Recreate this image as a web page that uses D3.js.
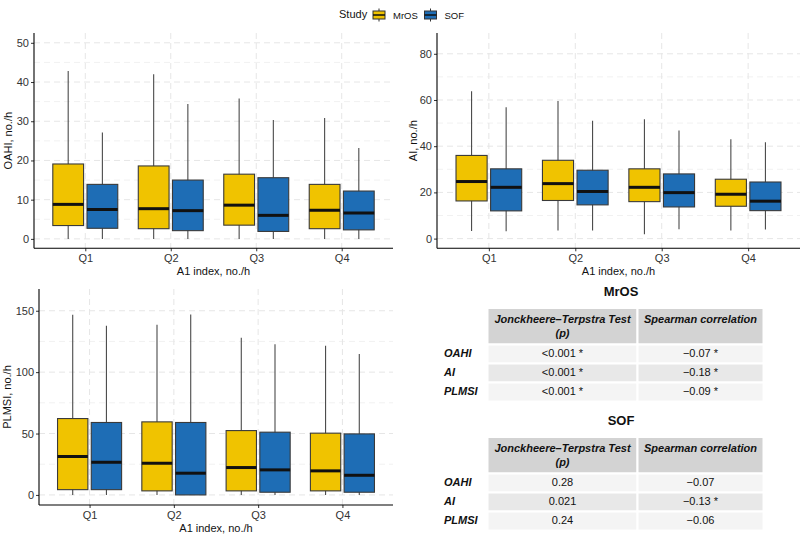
<!DOCTYPE html>
<html>
<head>
<meta charset="utf-8">
<script src="https://cdn.jsdelivr.net/npm/d3@7"></script>
<style>
  html, body { margin: 0; padding: 0; background: #fff; }
  svg { display: block; font-family: "Liberation Sans", Arial, Helvetica, sans-serif; }
</style>
</head>
<body>
<svg id="chart" width="800" height="534"></svg>
<script>
// quartile groups of the A1 index and the two cohorts
const quartiles = ['Q1', 'Q2', 'Q3', 'Q4'];
const studies = ['MrOS', 'SOF'];

// box stats per quartile: [whisker low, q1, median, q3, whisker high]
const oahiMrOS = [[0, 3.4, 8.8, 19.1, 42.8], [0, 2.6, 7.7, 18.6, 42.0], [0, 3.5, 8.6, 16.5, 35.8], [0, 2.6, 7.3, 13.9, 30.8]];
const oahiSOF = [[0, 2.7, 7.5, 13.9, 27.1], [0, 2.1, 7.2, 15.0, 34.4], [0, 1.9, 6.0, 15.6, 30.3], [0, 2.3, 6.6, 12.2, 23.2]];
const aiMrOS = [[3.3, 16.3, 24.7, 36.0, 63.8], [3.5, 16.5, 23.8, 33.9, 59.6], [1.9, 16.0, 22.2, 30.2, 51.7], [3.5, 14.0, 19.2, 25.7, 43.0]];
const aiSOF = [[3.2, 12.0, 22.2, 30.2, 56.9], [3.5, 14.6, 20.4, 29.6, 51.0], [4.0, 13.7, 19.9, 28.0, 46.8], [3.9, 12.1, 16.2, 24.5, 41.7]];
const plmsiMrOS = [[0, 4.3, 31.3, 62.2, 146.7], [0, 3.3, 25.8, 59.5, 138.6], [0, 3.3, 22.3, 52.4, 128.0], [0, 3.3, 19.6, 50.3, 121.5]];
const plmsiSOF = [[0, 4.3, 26.6, 59.0, 137.8], [0, 0, 17.7, 59.0, 147.0], [0, 2.2, 20.4, 51.1, 122.8], [0, 2.2, 16.0, 49.7, 114.7]];

// y ticks (major + minor) per panel
const oahiTicks = [0, 10, 20, 30, 40, 50];
const oahiMinor = [5, 15, 25, 35, 45];
const aiTicks = [0, 20, 40, 60, 80];
const aiMinor = [10, 30, 50, 70];
const plmsiTicks = [0, 50, 100, 150];
const plmsiMinor = [25, 75, 125];

// tables
const tableRows = ['OAHI', 'AI', 'PLMSI'];
const tableHead = [['Jonckheere\u2013Terpstra Test', '(p)'], ['Spearman correlation']];
const mrosJT = ['<0.001 *', '<0.001 *', '<0.001 *'];
const mrosSp = ['\u22120.07 *', '\u22120.18 *', '\u22120.09 *'];
const sofJT = ['0.28', '0.021', '0.24'];
const sofSp = ['\u22120.07', '\u22120.13 *', '\u22120.06'];

const colors = { MrOS: '#F0C300', SOF: '#1E6DB5' };
const svg = d3.select('#chart');

function drawPanel(cfg) {
  const x = d3.scalePoint().domain(quartiles).range([cfg.left, cfg.right]).padding(0.6);
  const step = x.step();
  const dodge = d3.scaleBand().domain(studies)
    .range([-0.4 * step, 0.4 * step]).paddingInner(0.1).paddingOuter(0.05);
  const y = d3.scaleLinear().domain(cfg.domain).range([cfg.bottom, cfg.top]);

  const g = svg.append('g');

  // dashed grid
  g.append('g').selectAll('line').data(cfg.minor).join('line')
    .attr('x1', cfg.left).attr('x2', cfg.right)
    .attr('y1', d => y(d)).attr('y2', d => y(d))
    .attr('stroke', '#f1f1f1').attr('stroke-dasharray', '6,4');
  g.append('g').selectAll('line').data(cfg.ticks).join('line')
    .attr('x1', cfg.left).attr('x2', cfg.right)
    .attr('y1', d => y(d)).attr('y2', d => y(d))
    .attr('stroke', '#e6e6e6').attr('stroke-dasharray', '6,4');
  g.append('g').selectAll('line').data(quartiles).join('line')
    .attr('x1', d => x(d)).attr('x2', d => x(d))
    .attr('y1', cfg.top).attr('y2', cfg.bottom)
    .attr('stroke', '#e6e6e6').attr('stroke-dasharray', '6,4');

  // boxes
  studies.forEach(s => {
    const stats = cfg.data[s];
    const bw = dodge.bandwidth();
    const grp = g.append('g').selectAll('g').data(quartiles).join('g')
      .attr('transform', q => `translate(${x(q) + dodge(s)},0)`);
    grp.append('line')
      .attr('x1', bw / 2).attr('x2', bw / 2)
      .attr('y1', (q, i) => y(stats[i][0])).attr('y2', (q, i) => y(stats[i][4]))
      .attr('stroke', '#4a4a4a').attr('stroke-width', 1.1);
    grp.append('rect')
      .attr('x', 0).attr('width', bw)
      .attr('y', (q, i) => y(stats[i][3]))
      .attr('height', (q, i) => y(stats[i][1]) - y(stats[i][3]))
      .attr('fill', colors[s]).attr('stroke', '#3a3a3a').attr('stroke-width', 1.1);
    grp.append('line')
      .attr('x1', 0).attr('x2', bw)
      .attr('y1', (q, i) => y(stats[i][2])).attr('y2', (q, i) => y(stats[i][2]))
      .attr('stroke', '#111').attr('stroke-width', 3);
  });

  // axes
  g.append('g')
    .attr('transform', `translate(${cfg.left},0)`)
    .call(d3.axisLeft(y).tickValues(cfg.ticks).tickSize(3).tickPadding(2))
    .call(a => a.select('.domain').remove())
    .call(a => a.selectAll('text').attr('font-size', 11).attr('fill', '#333').attr('font-family', null))
    .call(a => a.selectAll('.tick line').attr('stroke', '#333'));
  g.append('g')
    .attr('transform', `translate(0,${cfg.bottom})`)
    .call(d3.axisBottom(x).tickSize(3).tickPadding(3))
    .call(a => a.select('.domain').remove())
    .call(a => a.selectAll('text').attr('font-size', 11).attr('fill', '#333').attr('font-family', null))
    .call(a => a.selectAll('.tick line').attr('stroke', '#333'));
  g.append('line')
    .attr('x1', cfg.left).attr('x2', cfg.left).attr('y1', cfg.top).attr('y2', cfg.bottom)
    .attr('stroke', '#000').attr('stroke-width', 1.1);
  g.append('line')
    .attr('x1', cfg.left).attr('x2', cfg.right).attr('y1', cfg.bottom).attr('y2', cfg.bottom)
    .attr('stroke', '#000').attr('stroke-width', 1.1);

  // titles
  g.append('text')
    .attr('x', (cfg.left + cfg.right) / 2).attr('y', cfg.bottom + 27)
    .attr('text-anchor', 'middle').attr('font-size', 11).attr('fill', '#111')
    .text('A1 index, no./h');
  g.append('text')
    .attr('transform', `translate(${cfg.ylabX},${(cfg.top + cfg.bottom) / 2}) rotate(-90)`)
    .attr('text-anchor', 'middle').attr('font-size', 11).attr('fill', '#111')
    .text(cfg.ylab);
}

drawPanel({ left: 34, right: 393, top: 33, bottom: 248.3, domain: [-2.4, 52.5],
  ticks: oahiTicks, minor: oahiMinor, data: { MrOS: oahiMrOS, SOF: oahiSOF },
  ylab: 'OAHI, no./h', ylabX: 11.5 });
drawPanel({ left: 437, right: 800, top: 33, bottom: 248.3, domain: [-4.2, 89],
  ticks: aiTicks, minor: aiMinor, data: { MrOS: aiMrOS, SOF: aiSOF },
  ylab: 'AI, no./h', ylabX: 416.5 });
drawPanel({ left: 39, right: 393, top: 289, bottom: 505, domain: [-8.2, 167.7],
  ticks: plmsiTicks, minor: plmsiMinor, data: { MrOS: plmsiMrOS, SOF: plmsiSOF },
  ylab: 'PLMSI, no./h', ylabX: 10.5 });

// legend
const leg = svg.append('g');
leg.append('text').attr('x', 339).attr('y', 18).attr('font-size', 11).attr('fill', '#111').text('Study');
const legX = d3.scalePoint().domain(studies).range([373, 424.5]);
const key = leg.selectAll('g.key').data(studies).join('g')
  .attr('class', 'key').attr('transform', d => `translate(${legX(d)},0)`);
key.append('line').attr('x1', 6).attr('x2', 6).attr('y1', 8.5).attr('y2', 21.5)
  .attr('stroke', '#333').attr('stroke-width', 1);
key.append('rect').attr('x', 0).attr('y', 11).attr('width', 12).attr('height', 8)
  .attr('fill', d => colors[d]).attr('stroke', '#333').attr('stroke-width', 1);
key.append('line').attr('x1', 0).attr('x2', 12).attr('y1', 15).attr('y2', 15)
  .attr('stroke', '#111').attr('stroke-width', 1.5);
key.append('text').attr('x', 20).attr('y', 18.5).attr('font-size', 9.5).attr('fill', '#111').text(d => d);

// tables
function drawTable(top, title, jt, sp) {
  const colX = [487.5, 637.5, 763.5];
  const headH = 36.5, rowH = 19;
  const t = svg.append('g');
  t.append('text').attr('x', 621).attr('y', top - 12).attr('text-anchor', 'middle')
    .attr('font-size', 13).attr('font-weight', 'bold').attr('fill', '#111').text(title);
  tableHead.forEach((lines, c) => {
    t.append('rect').attr('x', colX[c]).attr('y', top).attr('width', colX[c + 1] - colX[c]).attr('height', headH)
      .attr('fill', '#d3d3d3').attr('stroke', '#fff').attr('stroke-width', 2);
    lines.forEach((ln, k) => {
      t.append('text').attr('x', (colX[c] + colX[c + 1]) / 2).attr('y', top + 15 + k * 13.5)
        .attr('text-anchor', 'middle').attr('font-size', 11).attr('font-weight', 'bold')
        .attr('font-style', 'italic').attr('fill', '#111').text(ln);
    });
  });
  tableRows.forEach((r, i) => {
    const ry = top + headH + i * rowH;
    const fill = i % 2 === 0 ? '#f4f4f4' : '#e8e8e8';
    [jt[i], sp[i]].forEach((v, c) => {
      t.append('rect').attr('x', colX[c]).attr('y', ry).attr('width', colX[c + 1] - colX[c]).attr('height', rowH)
        .attr('fill', fill).attr('stroke', '#fff').attr('stroke-width', 2);
      t.append('text').attr('x', (colX[c] + colX[c + 1]) / 2).attr('y', ry + 12.8)
        .attr('text-anchor', 'middle').attr('font-size', 11).attr('fill', '#111').text(v);
    });
    t.append('text').attr('x', 444).attr('y', ry + 12.8).attr('font-size', 11)
      .attr('font-weight', 'bold').attr('font-style', 'italic').attr('fill', '#111').text(r);
  });
}
drawTable(308, 'MrOS', mrosJT, mrosSp);
drawTable(437, 'SOF', sofJT, sofSp);
</script>
</body>
</html>
